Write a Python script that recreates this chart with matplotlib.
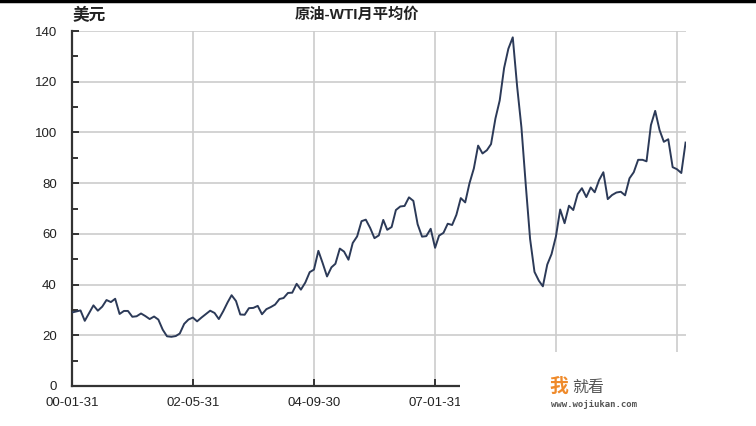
import matplotlib

matplotlib.use("Agg")
import matplotlib.pyplot as plt
import numpy as np
import pandas as pd
from matplotlib.lines import Line2D
from matplotlib.patches import Rectangle
from matplotlib.ticker import MultipleLocator

plt.rcParams["font.family"] = ["Liberation Sans", "Noto Sans CJK SC", "DejaVu Sans"]

# WTI monthly average price (USD/bbl), Jan 2000 - Nov 2011
Y2000 = [29.0, 29.4, 29.8, 25.7, 28.8, 31.8, 29.7, 31.3, 33.9, 33.1, 34.4, 28.4]
Y2001 = [29.6, 29.6, 27.3, 27.5, 28.6, 27.6, 26.4, 27.4, 26.2, 22.2, 19.6, 19.4]
Y2002 = [19.7, 20.7, 24.5, 26.2, 27.0, 25.5, 27.0, 28.4, 29.7, 28.8, 26.4, 29.5]
Y2003 = [33.0, 35.8, 33.5, 28.2, 28.1, 30.7, 30.8, 31.6, 28.3, 30.3, 31.1, 32.1]
Y2004 = [34.3, 34.7, 36.7, 36.8, 40.3, 38.0, 40.8, 44.9, 45.9, 53.3, 48.5, 43.2]
Y2005 = [46.8, 48.2, 54.2, 53.0, 49.8, 56.4, 59.0, 65.0, 65.6, 62.3, 58.3, 59.4]
Y2006 = [65.5, 61.6, 62.7, 69.4, 70.8, 71.0, 74.4, 73.0, 63.8, 58.9, 59.1, 62.0]
Y2007 = [54.5, 59.3, 60.4, 64.0, 63.5, 67.5, 74.1, 72.4, 79.9, 85.8, 94.8, 91.7]
Y2008 = [93.0, 95.4, 105.5, 112.6, 125.4, 133.0, 137.5, 118.0, 102.0, 79.0, 58.0, 45.0]
Y2009 = [41.5, 39.3, 47.9, 52.0, 59.0, 69.6, 64.2, 71.1, 69.4, 75.7, 78.0, 74.5]
Y2010 = [78.3, 76.4, 81.2, 84.3, 73.7, 75.3, 76.3, 76.6, 75.2, 81.9, 84.3, 89.2]
Y2011 = [89.2, 88.6, 102.9, 108.5, 100.9, 96.3, 97.3, 86.3, 85.5, 84.0, 96.0]

PRICES = Y2000 + Y2001 + Y2002 + Y2003 + Y2004 + Y2005 + Y2006 + Y2007 + Y2008 + Y2009 + Y2010 + Y2011
DATES = pd.date_range("2000-01-31", periods=len(PRICES), freq="ME")

TICK_DATES = pd.to_datetime(["2000-01-31", "2002-05-31", "2004-09-30",
                             "2007-01-31", "2009-05-31", "2011-09-30"])
TICK_LABELS = ["00-01-31", "02-05-31", "04-09-30", "07-01-31", "09-05-31", "11-09-30"]


def main() -> None:
    fig = plt.figure(figsize=(7.56, 4.26), dpi=100)
    ax = fig.add_axes([72 / 756, 1 - 386 / 426, (686 - 72) / 756, (386 - 31) / 426])

    ax.plot(DATES, PRICES, color="#2c3a58", lw=1.4, zorder=3)

    ax.set_ylim(0, 140)
    ax.set_xlim(DATES[0], DATES[-1] + pd.Timedelta(days=3))
    ax.yaxis.set_major_locator(MultipleLocator(20))
    ax.yaxis.set_minor_locator(MultipleLocator(10))
    ax.set_xticks(TICK_DATES)
    ax.set_xticklabels(TICK_LABELS)

    ax.grid(True, which="major", color="#cccccc", lw=1.2)
    ax.set_axisbelow(True)
    for side in ("top", "right"):
        ax.spines[side].set_visible(False)
    for side in ("left", "bottom"):
        ax.spines[side].set_color("#333333")
        ax.spines[side].set_linewidth(1.6)
    ax.tick_params(which="both", direction="in", color="#333333", width=1.4,
                   labelsize=9.5, labelcolor="#222222")
    ax.tick_params(which="major", length=5)
    ax.tick_params(which="minor", length=4)
    ax.tick_params(axis="y", pad=11)
    ax.tick_params(axis="x", pad=8)

    fig.text(73 / 756, 1 - 15 / 426, "美元", fontsize=12, fontweight="bold",
             color="#222222", va="center", ha="left")
    fig.text(357 / 756, 1 - 15 / 426, "原油-WTI月平均价", fontsize=11, fontweight="bold",
             color="#222222", va="center", ha="center")

    # white patch and site mark covering the lower right corner
    fig.add_artist(Rectangle((460 / 756, 0), 1, (426 - 352) / 426, transform=fig.transFigure,
                             facecolor="white", edgecolor="none", zorder=5))
    fig.text(549 / 756, 1 - 392 / 426, "我", fontsize=13.5, fontweight="bold", color="#ef8a2a",
             family=["Noto Sans CJK SC"], va="baseline", ha="left", zorder=6)
    fig.text(572 / 756, 1 - 392 / 426, "就看", fontsize=11.5, color="#555555",
             family=["Noto Sans CJK SC"], va="baseline", ha="left", zorder=6)
    fig.text(551 / 756, 1 - 400 / 426, "www.wojiukan.com", fontsize=6.5, color="#555555",
             family=["DejaVu Sans Mono"], fontweight="bold", va="top", ha="left", zorder=6)

    fig.add_artist(Line2D([0, 1], [1 - 1 / 426, 1 - 1 / 426], transform=fig.transFigure,
                          color="black", lw=2.5, zorder=6))

    fig.savefig("out.png", dpi=100, facecolor="white")
    plt.close(fig)


if __name__ == "__main__":
    main()
